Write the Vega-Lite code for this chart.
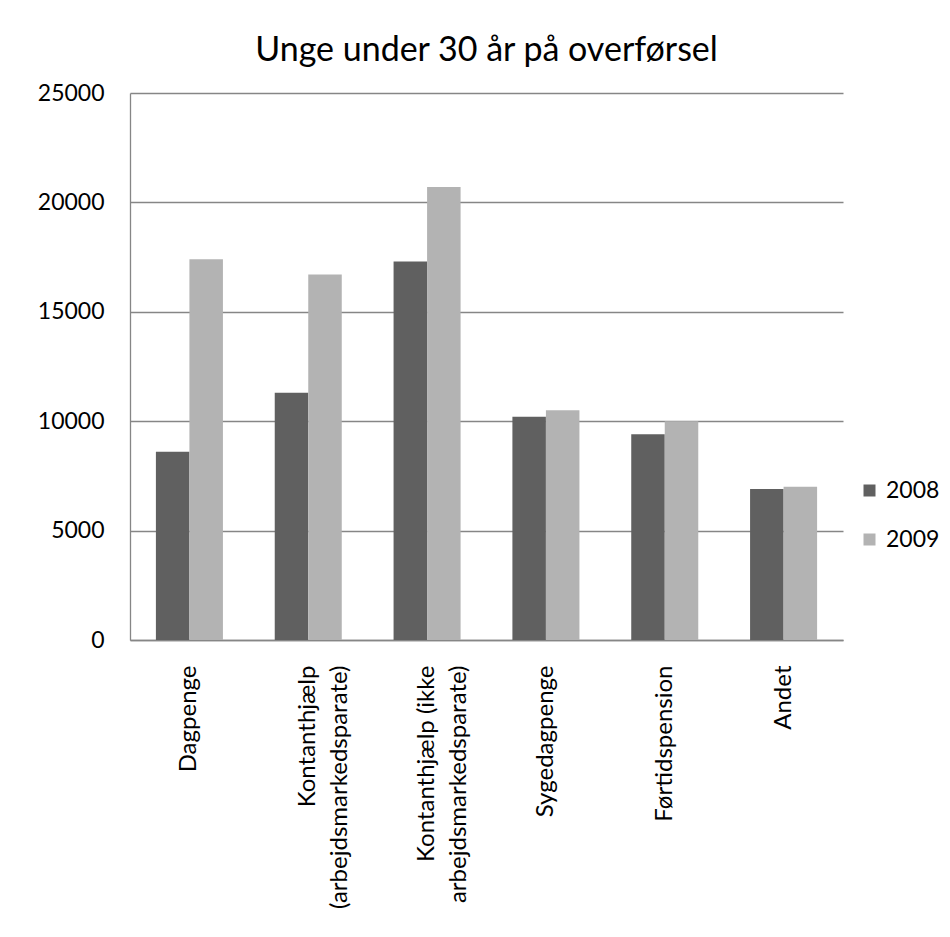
{
  "$schema": "https://vega.github.io/schema/vega-lite/v6.json",
  "autosize": {"type": "none"},
  "padding": {"left": 130, "top": 93, "right": 107, "bottom": 297},
  "width": 713,
  "height": 547,
  "background": "white",
  "title": {
    "text": "Unge under 30 år på overførsel",
    "font": "Lato",
    "fontSize": 34,
    "fontWeight": "normal",
    "color": "black",
    "anchor": "middle",
    "frame": "group",
    "baseline": "alphabetic",
    "offset": 30,
    "dy": 43
  },
  "data": {
    "values": [
      {"kategori": "Dagpenge", "aar": "2008", "antal": 8600},
      {"kategori": "Dagpenge", "aar": "2009", "antal": 17400},
      {"kategori": "Kontanthjælp|(arbejdsmarkedsparate)", "aar": "2008", "antal": 11300},
      {"kategori": "Kontanthjælp|(arbejdsmarkedsparate)", "aar": "2009", "antal": 16700},
      {"kategori": "Kontanthjælp (ikke|arbejdsmarkedsparate)", "aar": "2008", "antal": 17300},
      {"kategori": "Kontanthjælp (ikke|arbejdsmarkedsparate)", "aar": "2009", "antal": 20700},
      {"kategori": "Sygedagpenge", "aar": "2008", "antal": 10200},
      {"kategori": "Sygedagpenge", "aar": "2009", "antal": 10500},
      {"kategori": "Førtidspension", "aar": "2008", "antal": 9400},
      {"kategori": "Førtidspension", "aar": "2009", "antal": 10000},
      {"kategori": "Andet", "aar": "2008", "antal": 6900},
      {"kategori": "Andet", "aar": "2009", "antal": 7000}
    ]
  },
  "mark": {"type": "bar"},
  "encoding": {
    "x": {
      "field": "kategori",
      "type": "nominal",
      "sort": null,
      "scale": {"paddingInner": 0.436, "paddingOuter": 0.218},
      "axis": {
        "title": null,
        "labelAngle": -90,
        "labelAlign": "right",
        "labelBaseline": "middle",
        "labelFont": "Lato",
        "labelFontSize": 24,
        "labelColor": "black",
        "labelPadding": 25,
        "labelLineHeight": 32,
        "labelLimit": 400,
        "labelExpr": "split(datum.label, '|')",
        "ticks": false,
        "domainColor": "#868686",
        "domainWidth": 1.3,
        "grid": false
      }
    },
    "xOffset": {"field": "aar", "type": "nominal", "scale": {"paddingInner": 0, "paddingOuter": 0}},
    "y": {
      "field": "antal",
      "type": "quantitative",
      "scale": {"domain": [0, 25000], "nice": false},
      "axis": {
        "title": null,
        "values": [0, 5000, 10000, 15000, 20000, 25000],
        "format": "d",
        "labelFont": "Lato",
        "labelFontSize": 23,
        "labelColor": "black",
        "labelPadding": 26,
        "ticks": false,
        "domainColor": "#868686",
        "domainWidth": 1.3,
        "gridColor": "#868686",
        "gridWidth": 1.3
      }
    },
    "color": {
      "field": "aar",
      "type": "nominal",
      "scale": {"domain": ["2008", "2009"], "range": ["#606060", "#b3b3b3"]},
      "legend": {
        "title": null,
        "orient": "none",
        "legendX": 728,
        "legendY": 386,
        "padding": 0,
        "symbolType": "square",
        "symbolSize": 144,
        "symbolStrokeWidth": 0,
        "labelFont": "Lato",
        "labelFontSize": 23,
        "labelColor": "black",
        "labelOffset": 5,
        "rowPadding": 25
      }
    }
  },
  "config": {
    "view": {"stroke": null},
    "axis": {"domain": true}
  }
}
